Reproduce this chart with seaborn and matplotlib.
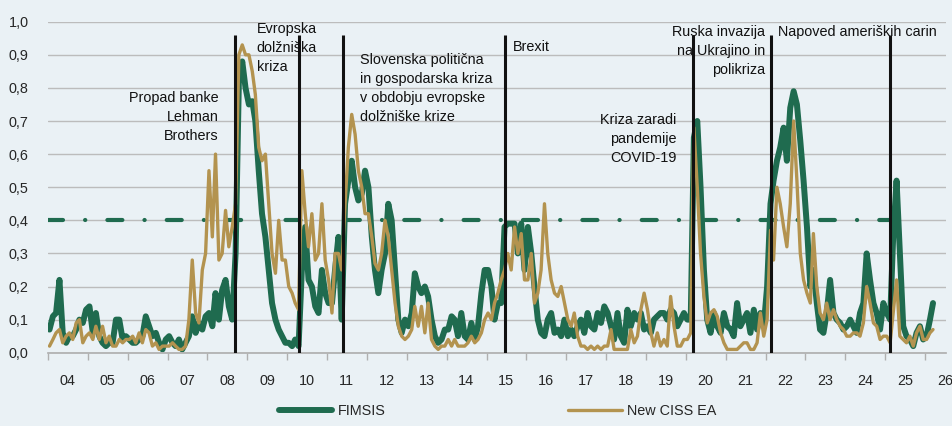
import pandas as pd
import matplotlib.pyplot as plt
import matplotlib.dates as mdates
import seaborn as sns

# mesečne vrednosti, jan 2004 - mar 2026 (odčitano s slike)
fimsis = [
    0.07, 0.11, 0.12, 0.22, 0.06, 0.03, 0.05, 0.05, 0.07, 0.10, 0.09, 0.13,  # 2004
    0.14, 0.06, 0.12, 0.05, 0.03, 0.02, 0.03, 0.03, 0.10, 0.10, 0.04, 0.05,  # 2005
    0.04, 0.03, 0.03, 0.04, 0.05, 0.11, 0.08, 0.05, 0.06, 0.03, 0.01, 0.04,  # 2006
    0.05, 0.03, 0.02, 0.04, 0.01, 0.03, 0.05, 0.11, 0.06, 0.09, 0.07, 0.11,  # 2007
    0.12, 0.08, 0.18, 0.10, 0.19, 0.22, 0.14, 0.10, 0.30, 0.82, 0.88, 0.80,  # 2008
    0.75, 0.76, 0.70, 0.55, 0.42, 0.35, 0.25, 0.15, 0.10, 0.07, 0.05, 0.03,  # 2009
    0.03, 0.02, 0.04, 0.02, 0.25, 0.38, 0.22, 0.20, 0.14, 0.12, 0.25, 0.18,  # 2010
    0.15, 0.15, 0.25, 0.35, 0.10, 0.45, 0.52, 0.58, 0.50, 0.46, 0.48, 0.55,  # 2011
    0.50, 0.35, 0.25, 0.18, 0.25, 0.30, 0.45, 0.40, 0.25, 0.10, 0.06, 0.10,  # 2012
    0.08, 0.12, 0.24, 0.20, 0.18, 0.20, 0.17, 0.10, 0.05, 0.03, 0.04, 0.07,  # 2013
    0.07, 0.11, 0.10, 0.05, 0.12, 0.05, 0.04, 0.09, 0.04, 0.08, 0.18, 0.25,  # 2014
    0.25, 0.20, 0.10, 0.15, 0.15, 0.38, 0.39, 0.39, 0.39, 0.30, 0.39, 0.25,  # 2015
    0.38, 0.30, 0.20, 0.10, 0.06, 0.05, 0.10, 0.12, 0.06, 0.07, 0.05, 0.10,  # 2016
    0.05, 0.07, 0.05, 0.08, 0.10, 0.06, 0.12, 0.08, 0.07, 0.12, 0.09, 0.14,  # 2017
    0.12, 0.08, 0.04, 0.12, 0.05, 0.03, 0.13, 0.08, 0.12, 0.10, 0.12, 0.07,  # 2018
    0.08, 0.06, 0.10, 0.11, 0.12, 0.12, 0.10, 0.13, 0.12, 0.08, 0.10, 0.12,  # 2019
    0.10, 0.10, 0.65, 0.70, 0.50, 0.25, 0.10, 0.06, 0.12, 0.08, 0.06, 0.12,  # 2020
    0.08, 0.07, 0.05, 0.15, 0.08, 0.10, 0.12, 0.06, 0.13, 0.07, 0.12, 0.08,  # 2021
    0.20, 0.45, 0.52, 0.58, 0.62, 0.68, 0.58, 0.74, 0.79, 0.75, 0.64, 0.52,  # 2022
    0.38, 0.20, 0.25, 0.15, 0.07, 0.06, 0.12, 0.22, 0.12, 0.10, 0.09, 0.07,  # 2023
    0.08, 0.10, 0.08, 0.06, 0.12, 0.15, 0.30, 0.22, 0.15, 0.12, 0.07, 0.15,  # 2024
    0.12, 0.10, 0.35, 0.52, 0.30, 0.08, 0.05, 0.04, 0.02, 0.06, 0.08, 0.04,  # 2025
    0.05, 0.10, 0.15,                                                        # 2026
]
ciss = [
    0.02, 0.04, 0.06, 0.07, 0.03, 0.05, 0.06, 0.04, 0.09, 0.10, 0.03, 0.05,  # 2004
    0.06, 0.04, 0.08, 0.04, 0.08, 0.03, 0.05, 0.02, 0.02, 0.04, 0.03, 0.04,  # 2005
    0.04, 0.05, 0.03, 0.06, 0.03, 0.07, 0.06, 0.02, 0.03, 0.01, 0.02, 0.02,  # 2006
    0.02, 0.03, 0.02, 0.01, 0.01, 0.02, 0.10, 0.28, 0.12, 0.09, 0.25, 0.30,  # 2007
    0.55, 0.35, 0.60, 0.28, 0.30, 0.43, 0.32, 0.38, 0.45, 0.90, 0.93, 0.90,  # 2008
    0.90, 0.85, 0.78, 0.62, 0.58, 0.60, 0.45, 0.30, 0.24, 0.40, 0.28, 0.28,  # 2009
    0.20, 0.18, 0.15, 0.13, 0.55, 0.42, 0.32, 0.42, 0.28, 0.30, 0.45, 0.28,  # 2010
    0.22, 0.12, 0.30, 0.30, 0.25, 0.45, 0.62, 0.72, 0.66, 0.55, 0.50, 0.42,  # 2011
    0.42, 0.35, 0.27, 0.25, 0.30, 0.40, 0.35, 0.25, 0.15, 0.08, 0.05, 0.04,  # 2012
    0.05, 0.07, 0.14, 0.08, 0.14, 0.06, 0.15, 0.04, 0.02, 0.01, 0.02, 0.02,  # 2013
    0.04, 0.02, 0.04, 0.02, 0.02, 0.02, 0.03, 0.05, 0.03, 0.04, 0.06, 0.10,  # 2014
    0.12, 0.10, 0.15, 0.18, 0.22, 0.25, 0.30, 0.25, 0.38, 0.30, 0.36, 0.22,  # 2015
    0.22, 0.30, 0.15, 0.18, 0.25, 0.45, 0.30, 0.22, 0.18, 0.17, 0.20, 0.15,  # 2016
    0.10, 0.08, 0.12, 0.05, 0.02, 0.02, 0.01, 0.02, 0.01, 0.02, 0.01, 0.02,  # 2017
    0.02, 0.07, 0.01, 0.01, 0.01, 0.01, 0.01, 0.07, 0.03, 0.05, 0.13, 0.18,  # 2018
    0.13, 0.06, 0.02, 0.06, 0.02, 0.04, 0.02, 0.17, 0.08, 0.02, 0.02, 0.04,  # 2019
    0.04, 0.06, 0.68, 0.50, 0.30, 0.17, 0.09, 0.12, 0.13, 0.11, 0.06, 0.03,  # 2020
    0.01, 0.01, 0.01, 0.01, 0.02, 0.03, 0.03, 0.01, 0.01, 0.03, 0.12, 0.05,  # 2021
    0.10, 0.37, 0.28, 0.50, 0.45, 0.38, 0.32, 0.45, 0.70, 0.52, 0.30, 0.22,  # 2022
    0.18, 0.15, 0.36, 0.20, 0.12, 0.10, 0.15, 0.10, 0.13, 0.10, 0.08, 0.07,  # 2023
    0.05, 0.05, 0.06, 0.06, 0.05, 0.09, 0.20, 0.15, 0.09, 0.08, 0.04, 0.05,  # 2024
    0.05, 0.03, 0.12, 0.22, 0.05, 0.04, 0.03, 0.05, 0.02, 0.06, 0.08, 0.04,  # 2025
    0.04, 0.06, 0.07,                                                        # 2026
]

# dogodki (navpične črte) in opisi
event_dates = ["2008-09-10", "2010-04-20", "2011-05-28", "2015-06-20",
               "2020-03-03", "2022-02-24", "2025-02-10"]
labels = [
    ("2008-04-15", 0.79, "Propad banke\nLehman\nBrothers", "right"),
    ("2009-03-28", 1.00, "Evropska\ndolžniška\nkriza", "left"),
    ("2011-10-30", 0.905, "Slovenska politična\nin gospodarska kriza\nv obdobju evropske\ndolžniške krize", "left"),
    ("2015-09-01", 0.945, "Brexit", "left"),
    ("2019-10-08", 0.725, "Kriza zaradi\npandemije\nCOVID-19", "right"),
    ("2021-12-28", 0.99, "Ruska invazija\nna Ukrajino in\npolikriza", "right"),
    ("2022-04-22", 0.99, "Napoved ameriških carin", "left"),
]
threshold = 0.4
threshold_span = ["2004-01-01", "2025-08-25"]

GREEN = "#1f6b4f"
GOLD = "#b3934f"
BG = "#eaf1f5"
FS = 10.4

sns.set_theme(style="whitegrid")
plt.rcParams["font.family"] = ["Liberation Sans", "DejaVu Sans"]
plt.rcParams["figure.facecolor"] = BG
plt.rcParams["axes.facecolor"] = BG

dates = pd.date_range("2004-01-01", periods=len(fimsis), freq="MS") + pd.Timedelta(days=14)
df = pd.DataFrame({"date": dates, "FIMSIS": fimsis, "New CISS EA": ciss})
thr = pd.DataFrame({"date": pd.to_datetime(threshold_span), "value": [threshold] * 2})

fig = plt.figure(figsize=(9.52, 4.26), dpi=100)
ax = fig.add_axes([0.0504, 0.172, 0.9433, 0.777])

sns.lineplot(data=df, x="date", y="FIMSIS", ax=ax, color=GREEN, lw=4.3,
             label="FIMSIS", zorder=2)
thr_line, = ax.plot(thr["date"], thr["value"], color=GREEN, lw=3, zorder=2.5,
                    dash_capstyle="round")
thr_line.set_dashes((3.6, 5.3, 0.05, 5.3))
sns.lineplot(data=df, x="date", y="New CISS EA", ax=ax, color=GOLD, lw=2.4,
             label="New CISS EA", zorder=3)
ax.vlines(pd.to_datetime(event_dates), 0, 0.96, color="#111111", lw=2.2, zorder=4)

for d, y, txt, ha in labels:
    ax.text(pd.Timestamp(d), y, txt, ha=ha, va="top", fontsize=FS,
            linespacing=1.45, color="#111111", zorder=5)

ax.set_ylim(0, 1.0)
ax.set_xlim(pd.Timestamp("2004-01-01"), pd.Timestamp("2026-07-12"))
ax.set_yticks([i / 10 for i in range(11)])
ax.set_yticklabels([f"{i / 10:.1f}".replace(".", ",") for i in range(11)], fontsize=FS)
ax.tick_params(axis="y", length=0, pad=14)

ax.xaxis.set_major_locator(mdates.YearLocator(1))
ax.xaxis.set_major_formatter(plt.NullFormatter())
ax.xaxis.set_minor_locator(mdates.YearLocator(1, month=7, day=1))
ax.xaxis.set_minor_formatter(mdates.DateFormatter("%y"))
ax.tick_params(axis="x", which="major", length=5, color="#b0b0b0", width=1, bottom=True)
ax.tick_params(axis="x", which="minor", length=0, pad=15, labelsize=FS)
ax.grid(axis="x", visible=False)
ax.grid(axis="y", color="#bcbcbc", lw=1)
ax.set_xlabel("")
ax.set_ylabel("")
for s in ["top", "right", "left"]:
    ax.spines[s].set_visible(False)
ax.spines["bottom"].set_color("#b0b0b0")

handles, labs = ax.get_legend_handles_labels()
ax.get_legend().remove()
fig.legend(handles, labs, loc="center", bbox_to_anchor=(0.523, 0.035), ncol=2,
           frameon=False, fontsize=FS, handlelength=3.7, columnspacing=12.6,
           handletextpad=0.4)

fig.savefig("out.png", dpi=100, facecolor=BG)
